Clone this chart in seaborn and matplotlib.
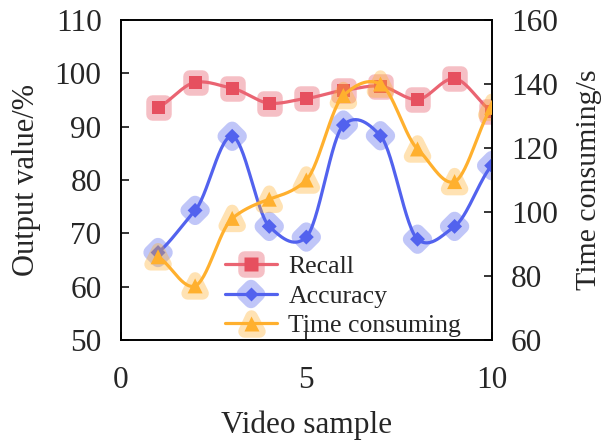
import numpy as np
import pandas as pd
import matplotlib
matplotlib.use("Agg")
import matplotlib.pyplot as plt
import matplotlib.colors as mcolors
import seaborn as sns
from matplotlib.lines import Line2D
from matplotlib.markers import MarkerStyle
from matplotlib.legend_handler import HandlerTuple

samples = [1, 2, 3, 4, 5, 6, 7, 8, 9, 10]
recall = [93.6, 98.3, 97.2, 94.4, 95.3, 96.8, 97.6, 95.1, 99.0, 92.9]
accuracy = [66.4, 74.3, 88.2, 71.3, 69.3, 90.3, 88.3, 68.9, 71.3, 82.7]
time_consuming = [86.0, 76.9, 98.0, 104.0, 110.0, 136.4, 140.0, 119.7, 109.5, 132.7]

left_ticks = [50, 60, 70, 80, 90, 100, 110]
right_ticks = [60, 80, 100, 120, 140, 160]
x_ticks = [0, 5, 10]

sns.set_theme(style="ticks")
plt.rcParams['font.family'] = ['Liberation Serif', 'DejaVu Serif']
plt.rcParams['mathtext.fontset'] = 'stix'


def smooth(x, y, n=30, k=0.7):
    # cardinal-spline curve through the data points (drawing only)
    x = np.asarray(x, float)
    y = np.asarray(y, float)
    px = np.concatenate([[2 * x[0] - x[1]], x, [2 * x[-1] - x[-2]]])
    py = np.concatenate([[2 * y[0] - y[1]], y, [2 * y[-1] - y[-2]]])
    xs, ys = [], []
    for i in range(1, len(px) - 2):
        t = np.linspace(0, 1, n, endpoint=(i == len(px) - 3))
        p0, p1, p2, p3 = py[i - 1], py[i], py[i + 1], py[i + 2]
        m1 = k * (p2 - p0) / 2
        m2 = k * (p3 - p1) / 2
        h00 = 2 * t**3 - 3 * t**2 + 1
        h10 = t**3 - 2 * t**2 + t
        h01 = -2 * t**3 + 3 * t**2
        h11 = t**3 - t**2
        ys.append(h00 * p1 + h10 * m1 + h01 * p2 + h11 * m2)
        xs.append(px[i] + t * (px[i + 1] - px[i]))
    return np.concatenate(xs), np.concatenate(ys)


fig = plt.figure(figsize=(6.04, 4.45), dpi=100)
ax = fig.add_axes([0.2003, 0.236, 0.6137, 0.719])
ax2 = ax.twinx()

# axis, values, name, marker colour, line colour, marker, inner size (pt), halo width (pt), halo alpha
specs = [
    (ax, recall, "Recall", "#e6505f", "#ea6472", "s", 9.4, 9.0, 0.36),
    (ax, accuracy, "Accuracy", "#5262ee", "#5262ee", "D", 7.6, 10.4, 0.36),
    (ax2, time_consuming, "Time consuming", "#ffb02e", "#ffb02e", "^", 10.8, 9.0, 0.36),
]

handles = []
for a, vals, name, mcol, lcol, mk, ms, hw, halpha in specs:
    sx, sy = smooth(samples, vals)
    df_line = pd.DataFrame({"x": sx, "y": sy})
    df_pts = pd.DataFrame({"x": samples, "y": vals})
    halo_rgba = mcolors.to_rgba(mcol, halpha)
    mstyle = MarkerStyle(mk, joinstyle="round")

    sns.lineplot(data=df_line, x="x", y="y", ax=a, color=lcol, lw=2.3,
                 sort=False, zorder=3, legend=False)
    n0 = len(a.collections)
    sns.scatterplot(data=df_pts, x="x", y="y", ax=a, marker=mstyle, s=ms**2,
                    color=mcol, zorder=2, legend=False)
    halo_coll = a.collections[n0]
    halo_coll.set_facecolor("none")
    halo_coll.set_edgecolor(halo_rgba)
    halo_coll.set_linewidth(hw)
    halo_coll.set_joinstyle("round")
    halo_coll.set_zorder(2)
    sns.scatterplot(data=df_pts, x="x", y="y", ax=a, marker=mk, s=ms**2,
                    color=mcol, edgecolor="none", linewidth=0, zorder=4,
                    legend=False)

    halo = Line2D([], [], ls="none", marker=MarkerStyle(mk, joinstyle="round"),
                  ms=ms, mfc="none", mec=halo_rgba, mew=hw)
    main = Line2D([], [], color=lcol, lw=2.3, marker=mk, ms=ms,
                  mfc=mcol, mec="none")
    handles.append(((halo, main), name))

for a in (ax, ax2):
    a.set_xlabel("")
    a.set_ylabel("")

ax.set_xlim(0, 10)
ax.set_ylim(50, 110)
ax2.set_ylim(60, 160)
ax.set_xticks(x_ticks)
ax.set_yticks(left_ticks)
ax2.set_yticks(right_ticks)

for a in (ax, ax2):
    a.tick_params(direction="in", length=6, width=1.1, labelsize=22.5, color="black")
    for sp in a.spines.values():
        sp.set_linewidth(1.2)
        sp.set_color("black")
ax.tick_params(axis="x", pad=19)
ax.tick_params(axis="y", pad=14)
ax2.tick_params(axis="y", pad=14)

ax.set_xlabel("Video sample", fontsize=22.5, labelpad=11)
ax.set_ylabel("Output value/%", fontsize=22, labelpad=10)
ax2.set_ylabel("Time consuming/s", fontsize=21.5, labelpad=13)

leg = ax2.legend([h for h, _ in handles], [n for _, n in handles],
                 handler_map={tuple: HandlerTuple(ndivide=1, pad=0)},
                 loc="lower left", bbox_to_anchor=(0.275, 0.0), frameon=False,
                 fontsize=18.5, handlelength=2.0, handletextpad=0.45,
                 labelspacing=0.26, borderaxespad=0.0, borderpad=0.1)
leg.set_zorder(10)

fig.savefig("out.png", dpi=100)
